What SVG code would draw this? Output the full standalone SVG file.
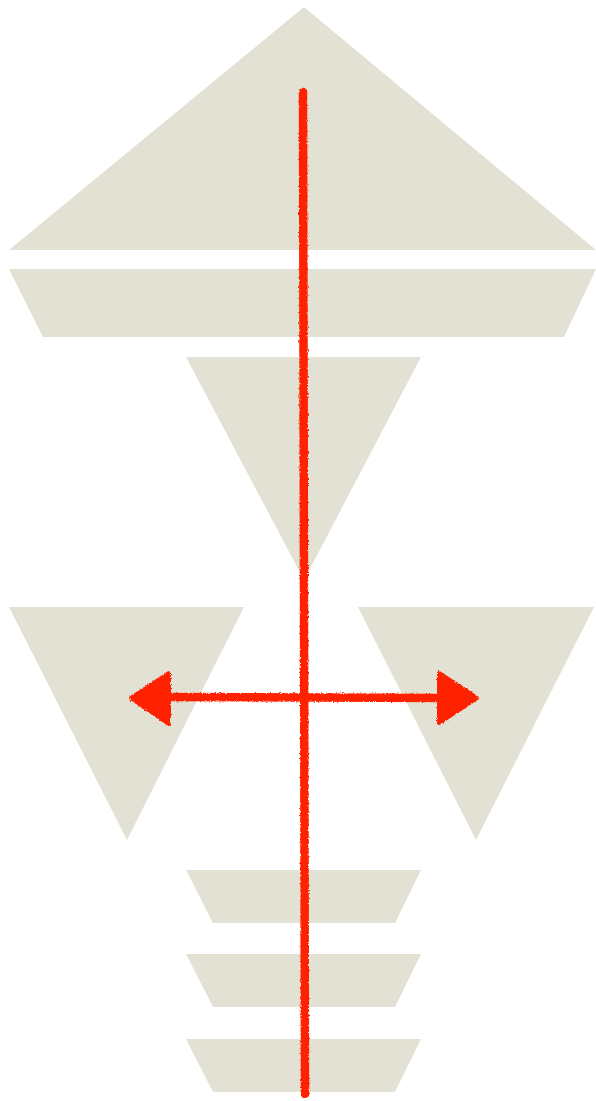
<svg xmlns="http://www.w3.org/2000/svg" width="596" height="1101" viewBox="0 0 596 1101">
<style>
.shape{fill:#E2E1D3;stroke:none}
.line{stroke:#FF2200;stroke-width:8.5;fill:none;stroke-linecap:round}
.head{fill:#FF2200;stroke:#FF2200;stroke-width:4;stroke-linejoin:round}
</style>
<defs>
<filter id="rough" x="-10%" y="-10%" width="120%" height="120%">
<feTurbulence type="fractalNoise" baseFrequency="0.6" numOctaves="2" seed="3" result="n"/>
<feDisplacementMap in="SourceGraphic" in2="n" scale="3" xChannelSelector="R" yChannelSelector="G"/>
</filter>
</defs>
<g id="roof"><polygon class="shape" points="304,7 596,250 9,250"/></g>
<g id="band"><polygon class="shape" points="9,269 596,269 564,337 43,337"/></g>
<g id="center-funnel"><polygon class="shape" points="186,357 421,357 304,580"/></g>
<g id="left-funnel"><polygon class="shape" points="9,607 244,607 127,840"/></g>
<g id="right-funnel"><polygon class="shape" points="358,607 594,607 476,840"/></g>
<g id="step1"><polygon class="shape" points="186,870 421,870 395,923 213,923"/></g>
<g id="step2"><polygon class="shape" points="186,954 421,954 395,1007 213,1007"/></g>
<g id="step3"><polygon class="shape" points="186,1039 421,1039 395,1092 213,1092"/></g>
<g id="connectors" filter="url(#rough)">
<path class="line" d="M303,92 L305,1094"/>
<path class="line" d="M166,697 L442,698"/>
<polygon class="head" points="131,698 169,673 169,724"/>
<polygon class="head" points="477,698 439,673 439,723"/>
</g>
</svg>
